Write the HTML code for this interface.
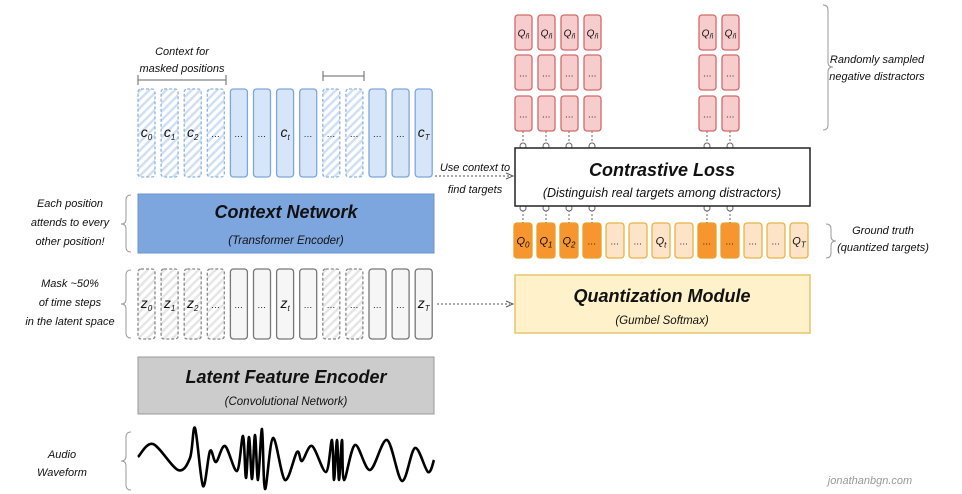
<!DOCTYPE html>
<html><head><meta charset="utf-8">
<style>
html,body{margin:0;padding:0;background:#fff;}
svg{display:block;}
text{font-family:"Liberation Sans",sans-serif;font-style:italic;fill:#111;}
</style></head>
<body>
<svg id="s" width="962" height="494" viewBox="0 0 962 494" xmlns="http://www.w3.org/2000/svg">
<defs>
<pattern id="hb" width="6" height="6" patternUnits="userSpaceOnUse" patternTransform="rotate(45)">
<rect width="6" height="6" fill="#fff"/><rect width="2.5" height="6" fill="#cfe0f5"/></pattern>
<pattern id="hg" width="6" height="6" patternUnits="userSpaceOnUse" patternTransform="rotate(45)">
<rect width="6" height="6" fill="#fff"/><rect width="2.5" height="6" fill="#e6e6e6"/></pattern>
</defs>
<g id="cells"></g>

<!-- top brackets -->
<path d="M138 75 V85 M138 80 H226 M226 75 V85" stroke="#666" fill="none"/>
<path d="M323 71 V81 M323 76 H364 M364 71 V81" stroke="#666" fill="none"/>
<text x="182" y="55" font-size="11" text-anchor="middle">Context for</text>
<text x="182" y="72" font-size="11" text-anchor="middle">masked positions</text>

<!-- context network -->
<rect x="138" y="194" width="296" height="59" fill="#7ea6de" stroke="#6a93cf"/>
<text x="286" y="218" font-size="18" font-weight="bold" text-anchor="middle">Context Network</text>
<text x="286" y="244" font-size="11.5" text-anchor="middle">(Transformer Encoder)</text>

<!-- latent encoder -->
<rect x="138" y="357" width="296" height="57" fill="#cccccc" stroke="#999"/>
<text x="286" y="383" font-size="18" font-weight="bold" text-anchor="middle">Latent Feature Encoder</text>
<text x="286" y="405" font-size="11.5" text-anchor="middle">(Convolutional Network)</text>

<!-- contrastive -->
<rect x="515" y="148" width="295" height="58" fill="#fff" stroke="#222" stroke-width="1.5"/>
<text x="662" y="176" font-size="18" font-weight="bold" text-anchor="middle">Contrastive Loss</text>
<text x="662" y="197" font-size="12.5" text-anchor="middle">(Distinguish real targets among distractors)</text>

<!-- quantization -->
<rect x="515" y="275" width="295" height="58" fill="#fff1c9" stroke="#e6c56e" stroke-width="1.5"/>
<text x="662" y="302" font-size="18" font-weight="bold" text-anchor="middle">Quantization Module</text>
<text x="662" y="324" font-size="11.5" text-anchor="middle">(Gumbel Softmax)</text>

<!-- arrows -->
<path d="M435 176 H510" stroke="#555" stroke-dasharray="2,2" fill="none"/>
<path d="M506 173 L513 176 L506 179" stroke="#555" fill="none"/>
<text x="475" y="171" font-size="11" text-anchor="middle">Use context to</text>
<text x="475" y="193" font-size="11" text-anchor="middle">find targets</text>
<path d="M437 304 H510" stroke="#555" stroke-dasharray="2,2" fill="none"/>
<path d="M506 301 L513 304 L506 307" stroke="#555" fill="none"/>

<!-- braces -->
<g stroke="#999" fill="none">
<path d="M823 5 q5 0 5 5 V62 q0 5 5 5 q-5 0 -5 5 V125 q0 5 -5 5"/>
<path d="M826 224 q5 0 5 5 V236 q0 5 5 5 q-5 0 -5 5 V253 q0 5 -5 5"/>
<path d="M131 195 q-5 0 -5 5 V219 q0 5 -5 5 q5 0 5 5 V247 q0 5 5 5"/>
<path d="M131 270 q-5 0 -5 5 V299 q0 5 -5 5 q5 0 5 5 V333 q0 5 5 5"/>
<path d="M131 432 q-5 0 -5 5 V456 q0 5 -5 5 q5 0 5 5 V485 q0 5 5 5"/>
</g>
<text x="877" y="63" font-size="11" text-anchor="middle">Randomly sampled</text>
<text x="877" y="80" font-size="11" text-anchor="middle">negative distractors</text>
<text x="883" y="234" font-size="11" text-anchor="middle">Ground truth</text>
<text x="883" y="251" font-size="11" text-anchor="middle">(quantized targets)</text>
<text x="70" y="207" font-size="11" text-anchor="middle">Each position</text>
<text x="70" y="226" font-size="11" text-anchor="middle">attends to every</text>
<text x="70" y="245" font-size="11" text-anchor="middle">other position!</text>
<text x="70" y="287" font-size="11" text-anchor="middle">Mask ~50%</text>
<text x="70" y="306" font-size="11" text-anchor="middle">of time steps</text>
<text x="70" y="325" font-size="11" text-anchor="middle">in the latent space</text>
<text x="62" y="458" font-size="11" text-anchor="middle">Audio</text>
<text x="62" y="476" font-size="11" text-anchor="middle">Waveform</text>
<text x="870" y="484" font-size="11" fill="#999" style="fill:#999" text-anchor="middle">jonathanbgn.com</text>

<path id="wave" d="" stroke="#000" stroke-width="2.6" fill="none" stroke-linejoin="round"/>
</svg>
<script>
var g=document.getElementById('cells'),ns='http://www.w3.org/2000/svg',out='';
function cell(x,y,w,h,fill,stroke,dash,label,fs){
 out+='<rect x="'+x+'" y="'+y+'" width="'+w+'" height="'+h+'" rx="3" fill="'+fill+'" stroke="'+stroke+'" stroke-width="1.3"'+(dash?' stroke-dasharray="3,2"':'')+'/>';
 out+='<text x="'+(x+w/2)+'" y="'+(y+h/2+4)+'" font-size="'+fs+'" text-anchor="middle">'+label+'</text>';
}
var cl=['c<tspan font-size="8" dy="3">0</tspan>','c<tspan font-size="8" dy="3">1</tspan>','c<tspan font-size="8" dy="3">2</tspan>','…','…','…','c<tspan font-size="8" dy="3">t</tspan>','…','…','…','…','…','c<tspan font-size="8" dy="3">T</tspan>'];
var zl=cl.map(function(s){return s.replace(/^c/,'z');});
var masked=[0,1,2,3,8,9];
for(var i=0;i<13;i++){
 var x=138+23.1*i,m=masked.indexOf(i)>=0;
 cell(x,89,17,88,m?'url(#hb)':'#d6e6f8',m?'#8fb3e0':'#7ea6de',m,cl[i],cl[i]=='…'?9:14);
 cell(x,269,17,70,m?'url(#hg)':'#f6f6f6',m?'#888':'#777',m,zl[i],zl[i]=='…'?9:14);
}
var ql=['Q<tspan font-size="8" dy="3">0</tspan>','Q<tspan font-size="8" dy="3">1</tspan>','Q<tspan font-size="8" dy="3">2</tspan>','…','…','…','Q<tspan font-size="8" dy="3">t</tspan>','…','…','…','…','…','Q<tspan font-size="8" dy="3">T</tspan>'];
for(var i=0;i<13;i++){
 var x=514+23*i,m=masked.indexOf(i)>=0;
 cell(x,223,18,35,m?'#f7962f':'#fde3c8',m?'#e8a02a':'#e9b445',false,ql[i],ql[i]=='…'?9:11);
 if(m){
  out+='<path d="M'+(x+9)+' 206 V223" stroke="#666" stroke-dasharray="2,2"/><circle cx="'+(x+9)+'" cy="208" r="3" fill="#fff" stroke="#666"/>';
  out+='<path d="M'+(x+9)+' 131 V148" stroke="#666" stroke-dasharray="2,2"/><circle cx="'+(x+9)+'" cy="146" r="3" fill="#fff" stroke="#666"/>';
  var rows=[[15,'Q<tspan font-size="7" dy="2">ñ</tspan>',10],[55,'…',9],[96,'…',9]];
  rows.forEach(function(r){cell(x+1,r[0],17,35,'#f6cccc','#d26a6a',false,r[1],r[2]);});
 }
}
g.innerHTML=out;
var P=[[138,457],[153,444],[178,470],[190,458],[195,428],[203,486],[210,451],[216,462],[225,446],[237,471],[243,436],[246,478],[249,437],[252,479],[255,435],[258,480],[262,429],[265,489],[273,438],[285,480],[297,452],[302,461],[312,446],[326,472],[332,440],[334,480],[337,440],[339,480],[342,440],[344,480],[355,445],[370,470],[387,440],[402,481],[415,448],[428,472],[434,460]];
var d='M'+P[0][0]+' '+P[0][1];
for(var i=0;i<P.length-1;i++){
 var p0=P[Math.max(0,i-1)],p1=P[i],p2=P[i+1],p3=P[Math.min(P.length-1,i+2)];
 var t=0.16;
 d+=' C'+(p1[0]+(p2[0]-p0[0])*t)+' '+(p1[1]+(p2[1]-p0[1])*t)+' '+(p2[0]-(p3[0]-p1[0])*t)+' '+(p2[1]-(p3[1]-p1[1])*t)+' '+p2[0]+' '+p2[1];
}
document.getElementById('wave').setAttribute('d',d);
</script>
</body></html>
